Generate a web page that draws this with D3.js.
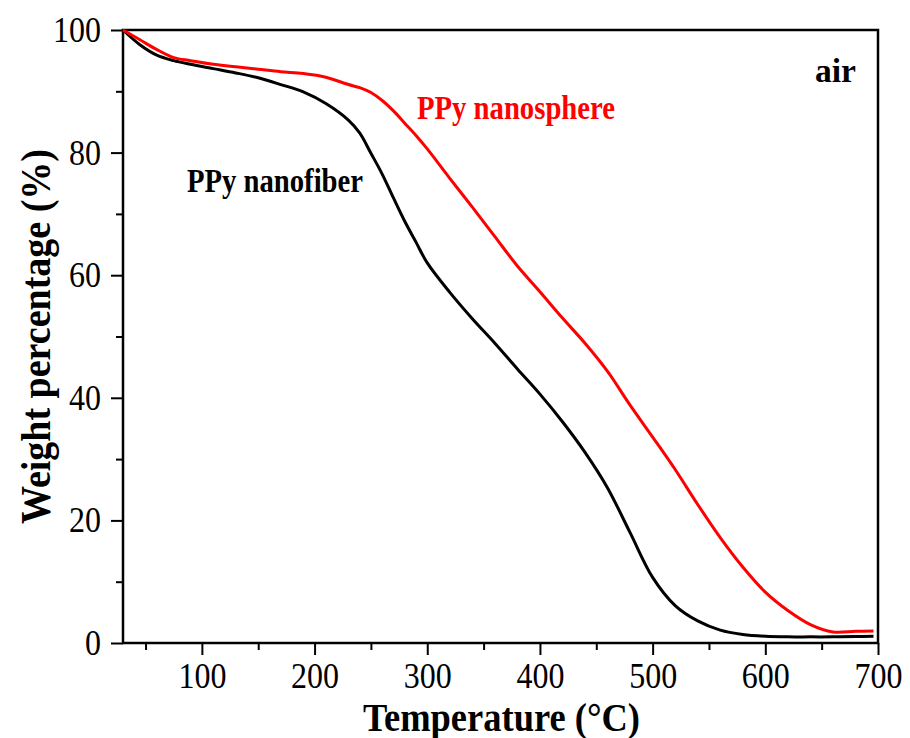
<!DOCTYPE html>
<html>
<head>
<meta charset="utf-8">
<script src="https://cdn.jsdelivr.net/npm/d3@7"></script>
<style>
  body { margin: 0; background: #fff; }
  text { font-family: "Liberation Serif", "Times New Roman", serif; }
</style>
</head>
<body>
<div id="chart"></div>
<script>
// temperature (°C) shared by both TGA curves
const temps = [30, 45, 60, 75, 90, 110, 130, 150, 170, 190, 210, 230, 240, 250, 260, 270, 280, 290, 300,
  320, 340, 360, 380, 400, 420, 440, 460, 480, 500, 520, 540, 560, 580, 600, 620, 640, 660, 680, 696];

// weight percentage (%)
const nanofiber = [100, 97.6, 95.9, 95.0, 94.4, 93.7, 93.0, 92.2, 91.1, 89.9, 88.0, 85.3, 83.2, 79.9, 76.5, 72.6, 68.8, 65.4, 62.0,
  57.2, 52.9, 48.9, 44.7, 40.6, 36.1, 31.1, 25.3, 18.0, 10.7, 6.1, 3.6, 2.1, 1.4, 1.1, 1.0, 1.0, 1.0, 1.05, 1.1];
const nanosphere = [100, 98.4, 96.8, 95.5, 95.0, 94.4, 94.0, 93.6, 93.2, 92.9, 92.3, 91.1, 90.6, 89.8, 88.5, 86.8, 84.8, 82.8, 80.6,
  75.8, 71.1, 66.3, 61.5, 57.3, 53.0, 48.9, 44.3, 38.8, 33.6, 28.3, 22.6, 17.2, 12.4, 8.3, 5.3, 3.0, 1.8, 1.9, 1.95];

const xTicks = [100, 200, 300, 400, 500, 600, 700];
const xMinor = [50, 150, 250, 350, 450, 550, 650];
const yTicks = [0, 20, 40, 60, 80, 100];
const yMinor = [10, 30, 50, 70, 90];

const width = 910, height = 738;
const margin = { top: 30, right: 32, bottom: 95, left: 123 };

const svg = d3.select("#chart").append("svg")
  .attr("width", width)
  .attr("height", height);

const x = d3.scaleLinear().domain([30, 700]).range([margin.left, width - margin.right]);
const y = d3.scaleLinear().domain([0, 100]).range([height - margin.bottom, margin.top]);

// frame
svg.append("rect")
  .attr("x", x(30)).attr("y", y(100))
  .attr("width", x(700) - x(30)).attr("height", y(0) - y(100))
  .attr("fill", "none").attr("stroke", "#000").attr("stroke-width", 2.5);

// bottom axis
svg.append("g")
  .attr("transform", `translate(0,${y(0)})`)
  .call(d3.axisBottom(x).tickValues(xTicks).tickSize(12).tickPadding(7).tickFormat(d3.format("d")));
svg.append("g")
  .attr("transform", `translate(0,${y(0)})`)
  .call(d3.axisBottom(x).tickValues(xMinor).tickSize(7).tickFormat(""));

// left axis
svg.append("g")
  .attr("transform", `translate(${x(30)},0)`)
  .call(d3.axisLeft(y).tickValues(yTicks).tickSize(12).tickPadding(10).tickFormat(d3.format("d")));
svg.append("g")
  .attr("transform", `translate(${x(30)},0)`)
  .call(d3.axisLeft(y).tickValues(yMinor).tickSize(7).tickFormat(""));

svg.selectAll(".domain").remove();
svg.selectAll(".tick line").attr("stroke", "#000").attr("stroke-width", 2);
// narrow, tall digits like the original
svg.selectAll(".tick text")
  .attr("font-family", "Liberation Serif")
  .attr("font-size", 36)
  .attr("fill", "#000")
  .attr("lengthAdjust", "spacingAndGlyphs")
  .attr("textLength", function () { return this.textContent.length * 16; });

// curves
const line = series => d3.line()
  .x((d, i) => x(temps[i]))
  .y(d => y(d))
  .curve(d3.curveCatmullRom.alpha(0.5))(series);

svg.append("path")
  .attr("d", line(nanofiber))
  .attr("fill", "none").attr("stroke", "#000").attr("stroke-width", 3);

svg.append("path")
  .attr("d", line(nanosphere))
  .attr("fill", "none").attr("stroke", "#ff0000").attr("stroke-width", 3);

// labels
function label(txt, px, py, len, fill, anchor) {
  svg.append("text")
    .attr("x", px).attr("y", py)
    .attr("text-anchor", anchor || "start")
    .attr("font-size", 33).attr("font-weight", "bold")
    .attr("fill", fill)
    .attr("lengthAdjust", "spacingAndGlyphs")
    .attr("textLength", len)
    .text(txt);
}
label("PPy nanofiber", 187, 192, 176, "#000");
label("PPy nanosphere", 417, 119, 198, "#ff0000");
label("air", 815, 82, 41, "#000");

// axis titles
svg.append("text")
  .attr("x", 363).attr("y", 731)
  .attr("font-size", 39).attr("font-weight", "bold")
  .attr("lengthAdjust", "spacingAndGlyphs")
  .attr("textLength", 277)
  .text("Temperature (°C)");

svg.append("text")
  .attr("transform", `translate(50,${(y(0) + y(100)) / 2}) rotate(-90)`)
  .attr("text-anchor", "middle")
  .attr("font-size", 42).attr("font-weight", "bold")
  .attr("lengthAdjust", "spacingAndGlyphs")
  .attr("textLength", 375)
  .text("Weight percentage (%)");
</script>
</body>
</html>
